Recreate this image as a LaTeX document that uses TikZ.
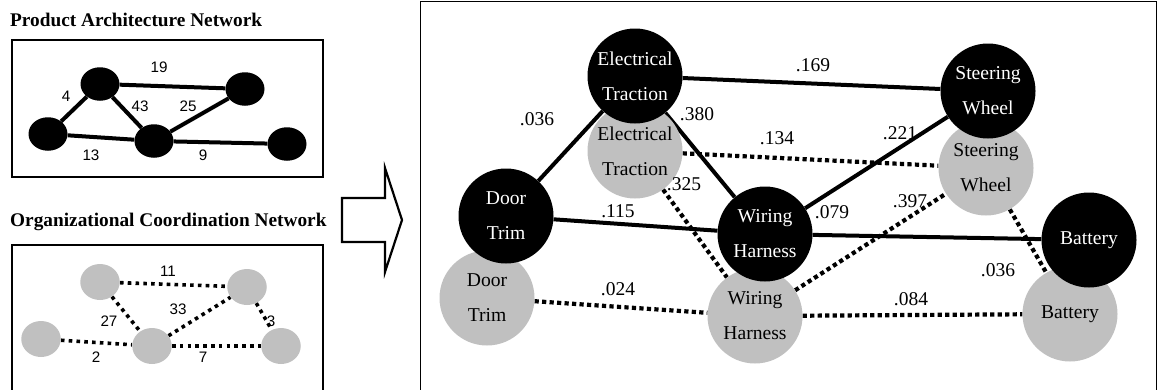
\documentclass[tikz,border=0pt]{standalone}
\usepackage{fontspec}
\setmainfont{Liberation Serif}
\newfontfamily\arialfont{Liberation Sans}
\usetikzlibrary{shapes.geometric}
\pgfdeclarelayer{bg}
\pgfsetlayers{bg,main}
\definecolor{pgray}{RGB}{192,192,192}
\begin{document}
\begin{tikzpicture}[x=1pt,y=-1pt,
  frame/.style={draw=black, line width=1.2pt},
  titletext/.style={font=\fontsize{19.3}{23}\selectfont\bfseries, anchor=base west, inner sep=0},
  sb/.style={ellipse, fill=black, minimum width=39pt, minimum height=33.5pt, inner sep=0},
  sg/.style={ellipse, fill=pgray, minimum width=39.5pt, minimum height=36pt, inner sep=0},
  bnode/.style={circle, fill=black, text=white, minimum size=95pt, inner sep=0, align=center, font=\fontsize{19.6}{35}\selectfont},
  gnode/.style={circle, fill=pgray, text=black, minimum size=95pt, inner sep=0, align=center, font=\fontsize{19.6}{35}\selectfont},
  wlab/.style={font=\fontsize{19.5}{23}\selectfont, inner sep=0},
  alab/.style={font=\arialfont\fontsize{15.2}{18}\selectfont, inner sep=0},
  solidedge/.style={line width=4pt},
  ldots/.style={line width=3.6pt, dash pattern=on 3.6pt off 4.2pt},
  rdots/.style={line width=4.2pt, dash pattern=on 4.2pt off 3.3pt},
  bigarrow/.style={line width=2.2pt, line join=miter, fill=white}
]
\useasboundingbox (0,0) rectangle (1158,389);

% titles
\node[titletext] (t1) at (10,26) {Product Architecture Network};
\node[titletext] (t2) at (10,226) {Organizational Coordination Network};

% left frames
\draw[frame] (12,40) rectangle (323,177);
\draw[frame] (12,392) -- (12,245) -- (323,245) -- (323,392);

% product architecture network
\node[sb] (A) at (100,84) {};
\node[sb] (B) at (245,89) {};
\node[sb] (C) at (48,134) {};
\node[sb] (D) at (154,141) {};
\node[sb] (E) at (287,144) {};

% organizational coordination network
\node[sg] (a) at (100,282) {};
\node[sg] (b) at (247,287) {};
\node[sg] (c) at (41,339) {};
\node[sg] (d) at (152,346) {};
\node[sg] (e) at (281,346) {};

\begin{pgfonlayer}{bg}
\draw[solidedge] (A) -- (B);
\draw[solidedge] (A) -- (C);
\draw[solidedge] (A) -- (D);
\draw[solidedge] (D) -- (B);
\draw[solidedge] (C) -- (D);
\draw[solidedge] (D) -- (E);
\draw[ldots] (a) -- (b);
\draw[ldots] (a) -- (d);
\draw[ldots] (d) -- (b);
\draw[ldots] (b) -- (e);
\draw[ldots] (c) -- (d);
\draw[ldots] (d) -- (e);
\end{pgfonlayer}

\node[alab] (l19) at (159,67) {19};
\node[alab] (l4) at (66,96) {4};
\node[alab] (l43) at (140,106) {43};
\node[alab] (l25) at (188,106) {25};
\node[alab] (l13) at (91,155) {13};
\node[alab] (l9) at (203,155) {9};

\node[alab] (l11) at (168,271) {11};
\node[alab] (l27) at (109,321) {27};
\node[alab] (l33) at (178,309) {33};
\node[alab] (l3) at (271,321) {3};
\node[alab] (l2) at (96,357) {2};
\node[alab] (l7) at (203,357) {7};

% big arrow
\draw[bigarrow] (342,198) -- (385,198) -- (385,168) -- (402,220) -- (385,272) -- (385,242) -- (342,242) -- cycle;

% right frame
\draw[frame] (420.6,395) -- (420.6,1.8) -- (1156.8,1.8) -- (1156.8,395);

% gray nodes
\node[gnode] (ETg) at (635,151) {Electrical\\Traction};
\node[gnode] (DTg) at (487,298) {Door\\Trim};
\node[gnode] (WHg) at (755,316) {Wiring\\Harness};
\node[gnode] (SWg) at (986,168) {Steering\\Wheel};
\node[gnode] (BAg) at (1070,314) {Battery};

% black nodes
\node[bnode] (ETb) at (635,76) {Electrical\\Traction};
\node[bnode] (DTb) at (506,216) {Door\\Trim};
\node[bnode] (WHb) at (765,234) {Wiring\\Harness};
\node[bnode] (SWb) at (988,91) {Steering\\Wheel};
\node[bnode] (BAb) at (1089,240) {Battery};

\begin{pgfonlayer}{bg}
\draw[solidedge] (ETb) -- (SWb);
\draw[solidedge] (ETb) -- (DTb);
\draw[solidedge] (ETb) -- (WHb);
\draw[solidedge] (DTb) -- (WHb);
\draw[solidedge] (WHb) -- (SWb);
\draw[solidedge] (WHb) -- (BAb);
\draw[rdots] (ETg) -- (SWg);
\draw[rdots] (ETg) -- (WHg);
\draw[rdots] (DTg) -- (WHg);
\draw[rdots] (WHg) -- (SWg);
\draw[rdots] (SWg) -- (BAg);
\draw[rdots] (WHg) -- (BAg);
\end{pgfonlayer}

% right labels
\node[wlab] (r169) at (813,65) {.169};
\node[wlab] (r036a) at (537,119) {.036};
\node[wlab] (r380) at (697,114) {.380};
\node[wlab] (r115) at (618,211) {.115};
\node[wlab] (r325) at (684,184) {.325};
\node[wlab] (r024) at (618,289) {.024};
\node[wlab] (r134) at (777,138) {.134};
\node[wlab] (r221) at (900,133) {.221};
\node[wlab] (r079) at (832,212) {.079};
\node[wlab] (r397) at (910,201) {.397};
\node[wlab] (r036b) at (998,270) {.036};
\node[wlab] (r084) at (911,299) {.084};
\end{tikzpicture}
\end{document}
